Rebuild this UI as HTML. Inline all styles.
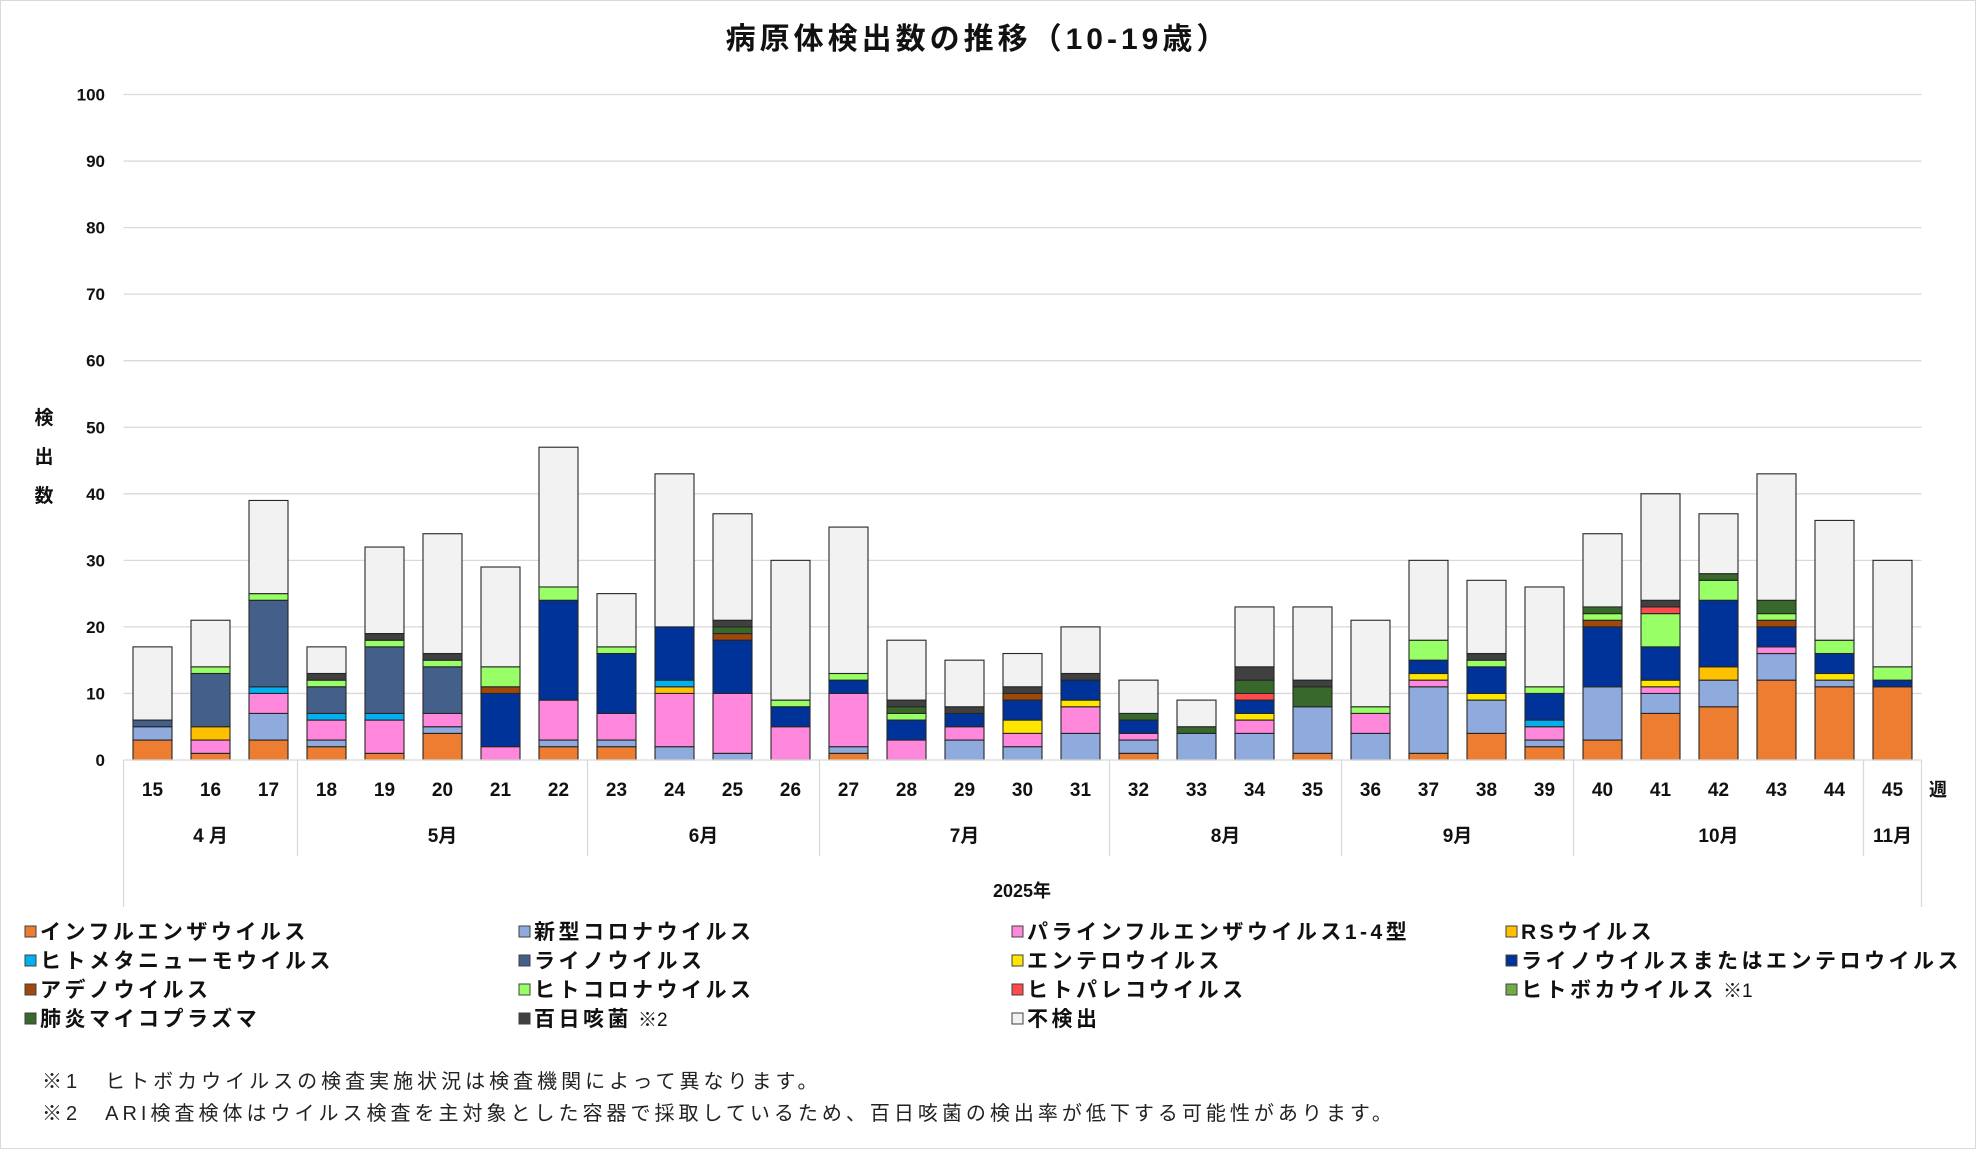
<!DOCTYPE html>
<html><head><meta charset="utf-8">
<style>
html,body{margin:0;padding:0;background:#fff}
svg{display:block}
text{font-family:"Liberation Sans","Noto Sans CJK JP",sans-serif}
</style></head>
<body>
<svg id="c" width="1976" height="1149" viewBox="0 0 1976 1149" xmlns="http://www.w3.org/2000/svg">
<rect x="0.5" y="0.5" width="1975" height="1148" fill="#fff" stroke="#d9d9d9"/>
<text x="978" y="49" text-anchor="middle" font-size="30" font-weight="bold" letter-spacing="4" fill="#111">病原体検出数の推移（10-19歳）</text>
<g id="g"></g>
</svg>
<script>
const NS="http://www.w3.org/2000/svg";
const g=document.getElementById('g');
function el(t,a,txt){const e=document.createElementNS(NS,t);for(const k in a)e.setAttribute(k,a[k]);if(txt!=null)e.textContent=txt;g.appendChild(e);return e;}
const y0=760,u=6.655,L=123.5,R=1921.5,slot=58,bw=39;
for(let v=10;v<=100;v+=10){const y=y0-v*u;el('line',{x1:L,x2:R,y1:y,y2:y,stroke:'#d9d9d9','stroke-width':1.3});}
for(let v=0;v<=100;v+=10){el('text',{x:105,y:y0-v*u+6,'text-anchor':'end','font-size':17,'font-weight':'bold',fill:'#111'},v);}
['検','出','数'].forEach((c,i)=>el('text',{x:44,y:424+i*39,'text-anchor':'middle','font-size':19,'font-weight':'bold',fill:'#111'},c));
const C={o:'#ED7D31',c:'#8FAADC',p:'#FF88DD',r:'#FFC000',h:'#00B0F0',n:'#44608A',e:'#FFE600',b:'#003399',a:'#9E480E',g:'#99FF66',q:'#FF4B4B',k:'#70AD47',m:'#38692A',t:'#404040',u:'#F2F2F2'};
const D=[
[['o',3],['c',2],['n',1],['u',11]],
[['o',1],['p',2],['r',2],['n',8],['g',1],['u',7]],
[['o',3],['c',4],['p',3],['h',1],['n',13],['g',1],['u',14]],
[['o',2],['c',1],['p',3],['h',1],['n',4],['g',1],['t',1],['u',4]],
[['o',1],['p',5],['h',1],['n',10],['g',1],['t',1],['u',13]],
[['o',4],['c',1],['p',2],['n',7],['g',1],['t',1],['u',18]],
[['p',2],['b',8],['a',1],['g',3],['u',15]],
[['o',2],['c',1],['p',6],['b',15],['g',2],['u',21]],
[['o',2],['c',1],['p',4],['b',9],['g',1],['u',8]],
[['c',2],['p',8],['r',1],['h',1],['b',8],['u',23]],
[['c',1],['p',9],['b',8],['a',1],['m',1],['t',1],['u',16]],
[['p',5],['b',3],['g',1],['u',21]],
[['o',1],['c',1],['p',8],['b',2],['g',1],['u',22]],
[['p',3],['b',3],['g',1],['m',1],['t',1],['u',9]],
[['c',3],['p',2],['b',2],['t',1],['u',7]],
[['c',2],['p',2],['e',2],['b',3],['a',1],['t',1],['u',5]],
[['c',4],['p',4],['e',1],['b',3],['t',1],['u',7]],
[['o',1],['c',2],['p',1],['b',2],['m',1],['u',5]],
[['c',4],['m',1],['u',4]],
[['c',4],['p',2],['e',1],['b',2],['q',1],['m',2],['t',2],['u',9]],
[['o',1],['c',7],['m',3],['t',1],['u',11]],
[['c',4],['p',3],['g',1],['u',13]],
[['o',1],['c',10],['p',1],['e',1],['b',2],['g',3],['u',12]],
[['o',4],['c',5],['e',1],['b',4],['g',1],['t',1],['u',11]],
[['o',2],['c',1],['p',2],['h',1],['b',4],['g',1],['u',15]],
[['o',3],['c',8],['b',9],['a',1],['g',1],['m',1],['u',11]],
[['o',7],['c',3],['p',1],['e',1],['b',5],['g',5],['q',1],['t',1],['u',16]],
[['o',8],['c',4],['r',2],['b',10],['g',3],['m',1],['u',9]],
[['o',12],['c',4],['p',1],['b',3],['a',1],['g',1],['m',2],['u',19]],
[['o',11],['c',1],['e',1],['b',3],['g',2],['u',18]],
[['o',11],['b',1],['g',2],['u',16]]
];
D.forEach((bar,i)=>{const cx=L+slot/2+slot*i;let s=0;
 bar.forEach(([k,v])=>{const yt=y0-(s+v)*u;el('rect',{x:cx-bw/2,y:yt,width:bw,height:v*u,fill:C[k],stroke:'#262626','stroke-width':1.1});s+=v;});
 el('text',{x:cx,y:796,'text-anchor':'middle','font-size':19,'font-weight':'bold',fill:'#111'},15+i);
});
el('line',{x1:L,x2:R,y1:y0,y2:y0,stroke:'#d9d9d9','stroke-width':1.3});
[0,3,8,12,17,21,25,30,31].forEach(j=>{const x=L+slot*j;const y2=(j==0||j==31)?907:856;el('line',{x1:x,x2:x,y1:y0,y2:y2,stroke:'#d9d9d9','stroke-width':1.3});});
[['4 月',0,3],['5月',3,8],['6月',8,12],['7月',12,17],['8月',17,21],['9月',21,25],['10月',25,30],['11月',30,31]].forEach(([t,a,b])=>{el('text',{x:L+slot*(a+b)/2,y:842,'text-anchor':'middle','font-size':19,'font-weight':'bold',fill:'#111'},t);});
el('text',{x:1022,y:897,'text-anchor':'middle','font-size':18,'font-weight':'bold',fill:'#111'},'2025年');
el('text',{x:1938,y:796,'text-anchor':'middle','font-size':18,'font-weight':'bold',fill:'#111'},'週');
const LG=[['o','インフルエンザウイルス'],['c','新型コロナウイルス'],['p','パラインフルエンザウイルス1-4型'],['r','RSウイルス'],
['h','ヒトメタニューモウイルス'],['n','ライノウイルス'],['e','エンテロウイルス'],['b','ライノウイルスまたはエンテロウイルス'],
['a','アデノウイルス'],['g','ヒトコロナウイルス'],['q','ヒトパレコウイルス'],['k','ヒトボカウイルス','※1'],
['m','肺炎マイコプラズマ'],['t','百日咳菌','※2'],['u','不検出']];
const cols=[25,519,1012,1506];
LG.forEach((l,i)=>{const x=cols[i%4],y=932+Math.floor(i/4)*29;
 el('rect',{x:x,y:y-6,width:11,height:11,fill:C[l[0]],stroke:'#404040','stroke-width':1});
 const t=el('text',{x:x+15,y:y+7,'font-size':21,'font-weight':'bold','letter-spacing':3.5,fill:'#111'},l[1]);
 if(l[2]){const s=document.createElementNS(NS,'tspan');s.setAttribute('font-weight','normal');s.setAttribute('font-size','19');s.setAttribute('letter-spacing','0');s.setAttribute('dx','6');s.textContent=l[2];t.appendChild(s);}
});
el('text',{x:42,y:1088,'font-size':20,'letter-spacing':4,fill:'#222'},'※1　ヒトボカウイルスの検査実施状況は検査機関によって異なります。');
el('text',{x:42,y:1120,'font-size':20,'letter-spacing':4,fill:'#222'},'※2　ARI検査検体はウイルス検査を主対象とした容器で採取しているため、百日咳菌の検出率が低下する可能性があります。');
</script>
</body></html>
